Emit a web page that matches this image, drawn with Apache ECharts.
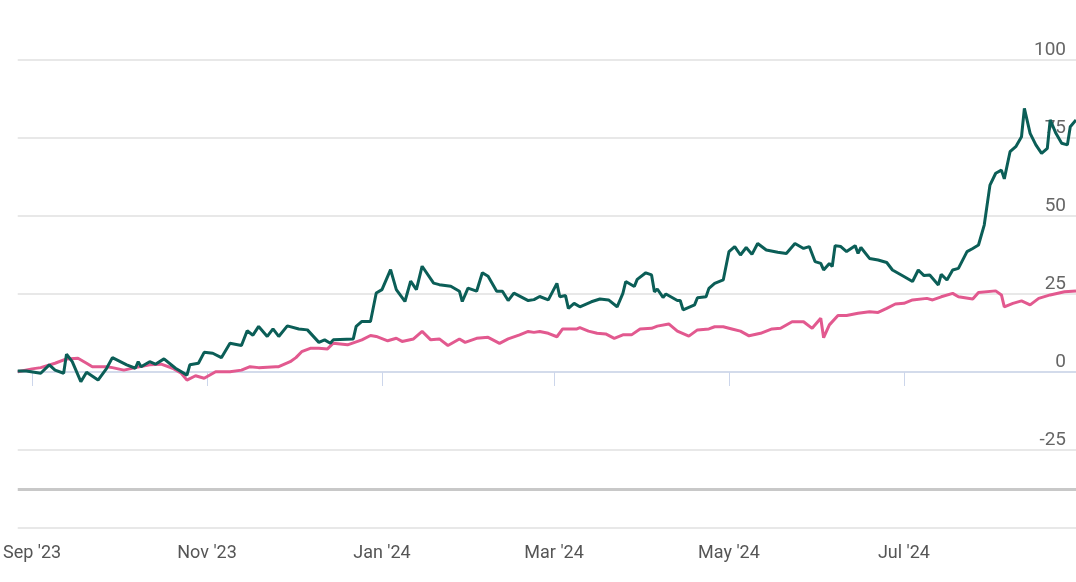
<!DOCTYPE html>
<html>
<head>
<meta charset="utf-8">
<script src="https://cdn.jsdelivr.net/npm/echarts@6/dist/echarts.min.js"></script>
<style>html,body{margin:0;padding:0;background:#fff;}</style>
</head>
<body>
<div id="chart" style="width:1076px;height:582px;"></div>
<script type="text/javascript">
// days counted from 2023-08-27
var startDate = '2023-08-27';
var greenDays = [0,3,8,11,13,16,17,19,22,24,28,31,33,38,41,42,43,46,48,51,55,59,60,63,65,68,71,74,78,80,82,84,87,89,91,94,98,101,105,107,109,110,117,118,120,123,125,127,130,132,135,137,139,141,145,147,151,154,155,157,160,162,164,167,169,171,173,178,180,182,185,188,189,191,192,194,196,200,203,206,209,211,212,215,216,219,221,222,223,225,226,230,231,232,236,237,240,241,243,246,248,250,252,254,256,258,261,265,268,271,274,276,278,280,281,283,284,285,287,289,292,293,294,297,300,303,305,309,312,314,316,318,321,322,324,326,328,331,333,335,337,339,341,343,344,346,348,350,351,353,355,357,359,360,362,364,366,367,369];
var greenVals = [0.3,0.3,-0.4,2.3,0.6,-0.4,5.7,3.3,-3.1,-0.1,-2.6,1.2,4.6,2.3,1.2,3.3,1.7,3.3,2.5,4.2,1.2,-1.0,2.3,2.8,6.3,6.0,4.6,9.2,8.5,13.2,11.8,14.6,11.4,13.8,11.4,14.8,13.8,13.5,9.5,10.3,9.2,10.3,10.6,14.6,16.2,16.2,25.3,26.4,32.8,26.4,22.6,29.1,26.4,33.9,28.5,28.0,27.5,25.9,22.6,26.9,25.9,31.8,30.7,25.9,25.9,22.9,25.3,22.9,23.2,24.2,23.1,28.4,24.1,24.5,20.4,22.0,20.9,22.5,23.4,23.1,20.9,25.2,29.0,27.4,29.7,31.8,31.1,25.7,26.6,23.9,25.0,22.9,22.9,19.9,21.5,23.8,24.1,26.8,28.4,29.5,38.6,40.2,37.5,39.9,37.7,41.2,39.1,38.4,38.0,41.2,39.6,40.2,35.4,34.8,32.7,34.8,33.8,40.5,40.2,38.6,40.5,38.0,39.9,36.4,35.9,35.1,32.7,30.6,29.0,32.7,30.9,31.1,27.9,31.3,29.5,32.7,33.2,38.6,39.6,40.7,47.1,59.9,63.7,64.7,61.9,70.6,72.2,75.4,84.5,76.5,72.8,70.1,71.7,80.8,76.5,73.3,72.8,78.6,80.8];
var pinkDays = [0,5,8,13,17,21,24,26,31,33,37,41,46,50,54,57,59,62,65,69,74,78,81,84,90,91,95,97,99,102,105,108,110,115,120,123,125,129,132,134,138,141,144,147,150,154,156,160,164,168,171,175,178,180,182,185,188,190,195,196,199,202,205,208,211,214,217,221,223,227,230,234,237,241,243,246,249,252,255,259,263,266,270,274,277,280,281,283,286,289,293,297,300,303,306,309,312,317,319,322,326,328,333,335,341,343,344,347,350,353,356,360,365,369];
var pinkVals = [0.1,1.0,1.4,2.8,4.2,4.4,2.8,1.7,1.7,1.4,0.6,1.4,2.3,2.5,1.2,-0.4,-2.6,-1.2,-2.0,0.1,0.1,0.6,1.7,1.4,1.7,1.7,3.3,4.6,6.5,7.6,7.6,7.4,9.2,8.7,10.3,11.7,11.4,10.0,10.8,9.8,10.6,13.0,10.3,10.6,8.5,10.6,9.5,10.8,11.1,9.2,10.6,11.9,13.0,12.7,13.0,12.4,11.3,13.8,13.8,14.2,13.1,12.4,12.2,10.8,11.9,11.9,13.8,14.0,14.7,15.4,13.1,11.5,13.5,13.8,14.5,14.5,13.8,13.1,11.6,12.4,13.8,14.0,16.1,16.1,14.0,17.2,11.0,15.1,18.1,18.1,18.8,19.3,19.1,20.4,21.8,22.0,23.1,23.6,23.1,24.1,25.2,24.1,23.4,25.5,26.0,24.7,20.9,22.0,22.8,21.5,23.6,24.7,25.7,26.0];
var tickDates = ['2023-09-01','2023-11-01','2024-01-01','2024-03-01','2024-05-01','2024-07-01'];
var yTicks = [-50,-25,0,25,50,75,100];

var DAY = 86400000;
var t0 = new Date(startDate + 'T00:00:00Z').getTime();
function build(days, vals) {
	var out = [];
	for (var i = 0; i < days.length; i++) {
		out.push([days[i], vals[i]]);
	}
	return out;
}
// tick positions as day offsets
var ticks = tickDates.map(function (d) {
	return Math.round((new Date(d + 'T00:00:00Z').getTime() - t0) / DAY);
});
var months = ['Jan','Feb','Mar','Apr','May','Jun','Jul','Aug','Sep','Oct','Nov','Dec'];

var chart = echarts.init(document.getElementById('chart'));
var option = {
	backgroundColor: '#fff',
	animation: false,
	grid: { left: 17, right: 0, top: 60, bottom: 54 },
	xAxis: {
		type: 'value',
		min: 0,
		max: 369,
		axisLine: { show: true, lineStyle: { color: '#ccd6eb', width: 1.5 } },
		axisTick: { show: true, customValues: ticks, length: 14, lineStyle: { color: '#ccd6eb' } },
		splitLine: { show: false },
		axisLabel: {
			customValues: ticks,
			color: '#555',
			fontFamily: 'Roboto',
			fontSize: 18,
			margin: 16,
			formatter: function (v) {
				var d = new Date(t0 + v * DAY);
				return months[d.getUTCMonth()] + " '" + String(d.getUTCFullYear()).slice(2);
			}
		}
	},
	yAxis: {
		type: 'value',
		position: 'right',
		min: yTicks[0],
		max: yTicks[yTicks.length - 1],
		interval: 25,
		axisLine: { show: false },
		axisTick: { show: false },
		splitLine: { lineStyle: { color: '#e0e0e0', width: 1.5 } },
		axisLabel: {
			inside: true,
			color: '#666',
			fontFamily: 'Roboto',
			fontSize: 19,
			margin: 10,
			verticalAlign: 'bottom',
			formatter: function (v) { return v === -50 ? '' : v; }
		}
	},
	series: [
		{
			name: 'pink',
			type: 'line',
			data: build(pinkDays, pinkVals),
			showSymbol: false,
			lineStyle: { color: '#e2598f', width: 3 },
			z: 2,
			markLine: {
				silent: true,
				symbol: 'none',
				label: { show: false },
				lineStyle: { color: '#c8c8c8', width: 3, type: 'solid' },
				data: [{ yAxis: -37.5 }]
			}
		},
		{
			name: 'green',
			type: 'line',
			data: build(greenDays, greenVals),
			showSymbol: false,
			lineStyle: { color: '#0b5e57', width: 3 },
			z: 3
		}
	]
};
chart.setOption(option);
</script>
</body>
</html>
